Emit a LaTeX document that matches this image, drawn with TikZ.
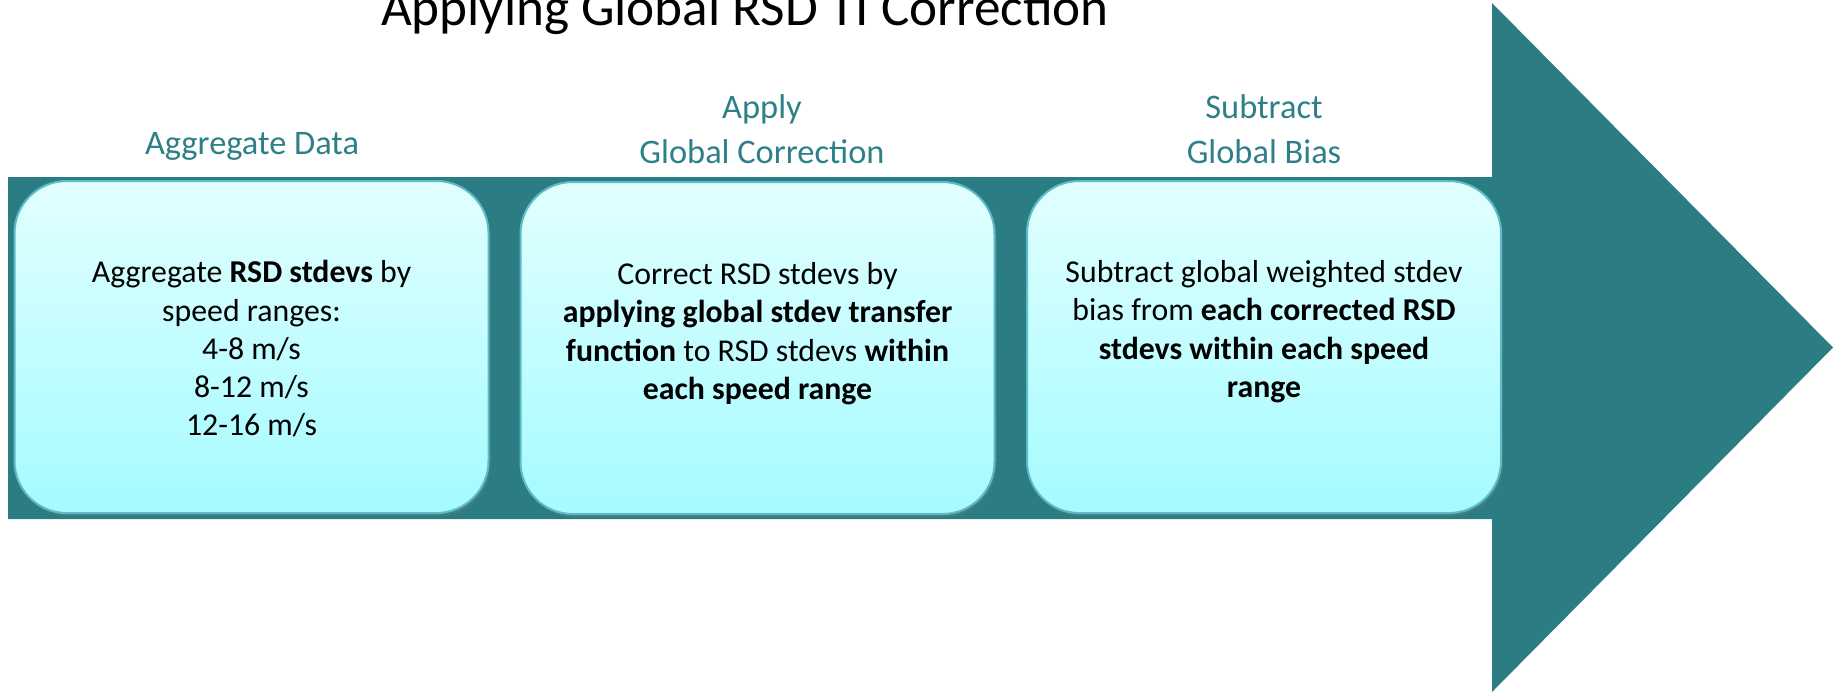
\documentclass[tikz,border=0pt]{standalone}
\usepackage{fontspec}
\setmainfont{Carlito}
\usetikzlibrary{shadows}
\definecolor{arrowteal}{RGB}{44,124,131}
\definecolor{headteal}{RGB}{46,128,136}
\definecolor{boxtop}{RGB}{226,255,255}
\definecolor{boxbot}{RGB}{164,251,255}
\definecolor{boxedge}{RGB}{92,188,198}
\tikzset{
  stepbox/.style={rounded corners=26pt, draw=boxedge, line width=1pt,
    top color=boxtop, bottom color=boxbot,
    minimum width=237pt, minimum height=166pt, inner sep=0pt,
    drop shadow={opacity=0.3, shadow xshift=1pt, shadow yshift=-1.5pt}},
  bodytext/.style={font=\fontsize{15.9}{19.15}\selectfont, align=center, inner sep=0pt, text=black},
  headtext/.style={font=\fontsize{17.2}{22.5}\selectfont, align=center, inner sep=0pt, text=headteal},
  titletext/.style={font=\fontsize{26.6}{32}\selectfont, inner sep=0pt, text=black}
}
\begin{document}
\begin{tikzpicture}[x=0.5pt,y=-0.5pt]
\useasboundingbox (0,0) rectangle (1833,693);
% big arrow
\fill[arrowteal] (8,177) -- (1492,177) -- (1492,3) -- (1833,347.5) -- (1492,692) -- (1492,519) -- (8,519) -- cycle;
% title
\node[titletext, anchor=base] (title) at (745,25) {Applying Global RSD TI Correction};
% headings
\node[headtext, anchor=base] (h1) at (252,154) {Aggregate Data};
\node[headtext, anchor=south] (h2) at (762,164.5) {Apply\\Global Correction};
\node[headtext, anchor=south] (h3) at (1264,164.5) {Subtract\\Global Bias};
% boxes
\node[stepbox] (b1) at (251.5,347) {};
\node[stepbox] (b2) at (757.5,348) {};
\node[stepbox] (b3) at (1264,347) {};
% box texts
\node[bodytext, anchor=north] (t1) at (251.5,260) {Aggregate \textbf{RSD stdevs} by\\speed ranges:\\4-8 m/s\\8-12 m/s\\12-16 m/s};
\node[bodytext, anchor=north] (t2) at (757.5,262) {Correct RSD stdevs by\\\textbf{applying global stdev transfer}\\\textbf{function} to RSD stdevs \textbf{within}\\\textbf{each speed range}};
\node[bodytext, anchor=north] (t3) at (1264,260) {Subtract global weighted stdev\\bias from \textbf{each corrected RSD}\\\textbf{stdevs within each speed}\\\textbf{range}};
\end{tikzpicture}
\end{document}
